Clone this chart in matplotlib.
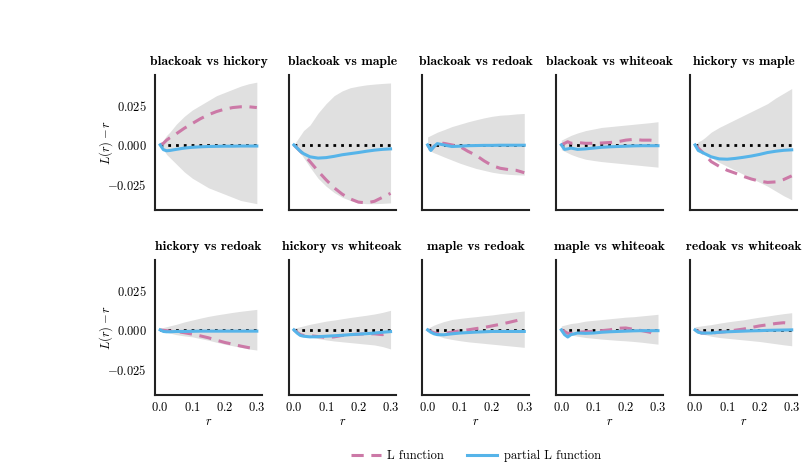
import numpy as np
import matplotlib
matplotlib.use("Agg")
import matplotlib.pyplot as plt

plt.rcParams["font.family"] = ["cmr10", "DejaVu Serif"]
plt.rcParams["mathtext.fontset"] = "cm"
plt.rcParams["axes.formatter.use_mathtext"] = True
plt.rcParams["axes.unicode_minus"] = True

# distance grid
r = [0, 0.01, 0.02, 0.03, 0.05, 0.075, 0.1, 0.125, 0.15, 0.175, 0.2, 0.225, 0.25, 0.275, 0.3]

titles = ["blackoak vs hickory", "blackoak vs maple", "blackoak vs redoak",
          "blackoak vs whiteoak", "hickory vs maple", "hickory vs redoak",
          "hickory vs whiteoak", "maple vs redoak", "maple vs whiteoak",
          "redoak vs whiteoak"]

# L(r) - r
L_bh = [0, .001, .003, .0045, .007, .0105, .0135, .0165, .019, .021, .0225, .0235, .024, .024, .0235]
L_bm = [0, -.002, -.004, -.006, -.0105, -.0165, -.022, -.027, -.031, -.034, -.036, -.0365, -.0355, -.033, -.0305]
L_br = [0, -.003, -.001, .001, .001, 0, -.001, -.004, -.0065, -.01, -.013, -.0147, -.0155, -.016, -.0175]
L_bw = [0, .001, .002, .001, .0015, .001, .001, .0012, .0015, .002, .003, .0035, .003, .003, .0025]
L_hm = [0, -.002, -.004, -.006, -.0105, -.0135, -.016, -.0178, -.0198, -.0215, -.0228, -.0236, -.0233, -.0218, -.0195]
L_hr = [0, -.0003, -.0005, -.0008, -.001, -.0018, -.0027, -.0038, -.005, -.0065, -.0079, -.009, -.0102, -.0112, -.012]
L_hw = [0, -.0015, -.003, -.0035, -.0037, -.0042, -.0048, -.0044, -.0035, -.003, -.0027, -.0025, -.0025, -.003, -.002]
L_mr = [0, -.001, -.0018, -.0023, -.0022, -.0015, -.0006, 0, .0008, .0015, .0025, .0035, .0046, .0058, .0071]
L_mw = [0, -.001, -.0022, -.0022, -.0015, -.0012, -.001, -.0005, 0, .001, .0012, .0003, -.0005, -.0015, -.004]
L_rw = [0, -.001, -.002, -.002, -.002, -.0015, -.001, -.0002, .0005, .0015, .0025, .0032, .004, .0045, .004]

# partial L(r) - r
P_bh = [0, -.003, -.0037, -.0035, -.0028, -.002, -.0015, -.0012, -.001, -.0009, -.0008, -.0008, -.0007, -.0007, -.0007]
P_bm = [0, -.002, -.004, -.0055, -.0075, -.0083, -.008, -.0072, -.0062, -.0055, -.0048, -.004, -.0033, -.0028, -.0025]
P_br = [0, -.0035, -.001, .0008, 0, -.001, -.0008, -.0005, -.0004, -.0003, -.0003, -.0002, -.0002, -.0002, -.0002]
P_bw = [0, -.0028, -.0025, -.002, -.0028, -.0025, -.002, -.0015, -.0012, -.001, -.0008, -.0006, -.0005, -.0005, -.0005]
P_hm = [0, -.0035, -.0045, -.0055, -.0075, -.0088, -.009, -.0085, -.0078, -.007, -.006, -.0048, -.004, -.0034, -.0031]
P_hr = [0, -.001, -.0012, -.0012, -.001, -.001, -.0009, -.0008, -.0008, -.0008, -.0008, -.0008, -.0008, -.0008, -.0008]
P_hw = [0, -.002, -.0035, -.004, -.0044, -.0043, -.004, -.0037, -.0034, -.003, -.0027, -.0024, -.002, -.0015, -.0011]
P_mr = [0, -.0015, -.0025, -.003, -.0031, -.0025, -.002, -.0017, -.0014, -.0012, -.001, -.001, -.001, -.001, -.001]
P_mw = [0, -.003, -.0045, -.003, -.002, -.0022, -.002, -.0015, -.0012, -.001, -.0008, -.0006, -.0005, -.0005, -.0005]
P_rw = [0, -.0015, -.002, -.002, -.002, -.0015, -.0012, -.001, -.0008, -.0006, -.0005, -.0003, -.0002, -.0001, 0]

# envelope upper / lower
H_bh = [0, .003, .006, .008, .013, .018, .022, .025, .028, .031, .033, .035, .037, .0385, .0395]
B_bh = [0, -.003, -.006, -.008, -.012, -.017, -.021, -.024, -.027, -.029, -.031, -.033, -.035, -.036, -.037]
H_bm = [0, .003, .006, .009, .0125, .02, .026, .031, .034, .036, .037, .0378, .0383, .0387, .039]
B_bm = [0, -.003, -.005, -.008, -.014, -.021, -.026, -.030, -.033, -.035, -.0365, -.037, -.037, -.0368, -.0365]
H_br = [.005, .006, .007, .008, .0095, .0115, .013, .0145, .0158, .017, .018, .0187, .019, .0195, .0198]
B_br = [-.003, -.004, -.005, -.0058, -.0075, -.0095, -.0115, -.0132, -.0148, -.016, -.0172, -.018, -.0185, -.0188, -.019]
H_bw = [.003, .004, .005, .006, .0075, .009, .010, .011, .0115, .012, .0125, .013, .0135, .014, .0146]
B_bw = [-.003, -.004, -.005, -.006, -.0075, -.009, -.0098, -.0105, -.011, -.0115, -.012, -.0125, -.013, -.0135, -.014]
H_hm = [0, .002, .003, .0045, .008, .011, .0135, .016, .0185, .021, .0235, .026, .0295, .0325, .0355]
B_hm = [0, -.002, -.003, -.0045, -.008, -.011, -.0135, -.016, -.0185, -.021, -.0235, -.026, -.029, -.032, -.0345]
H_hr = [.001, .0015, .002, .0025, .0035, .005, .0062, .0074, .0085, .0094, .0102, .011, .0117, .0123, .0129]
B_hr = [-.0005, -.001, -.0015, -.002, -.003, -.0038, -.0044, -.0055, -.0065, -.0078, -.009, -.010, -.011, -.012, -.0127]
H_hw = [.001, .0015, .002, .0025, .0035, .0045, .0055, .0062, .007, .0078, .0085, .0092, .01, .011, .0123]
B_hw = [-.001, -.0015, -.002, -.003, -.0045, -.0055, -.0063, -.007, -.0075, -.008, -.0085, -.009, -.0095, -.0105, -.012]
H_mr = [.001, .002, .003, .0038, .0052, .0065, .0072, .0078, .0083, .0089, .0094, .0101, .0107, .0113, .0119]
B_mr = [-.001, -.0018, -.0025, -.0035, -.005, -.006, -.0068, -.0075, -.008, -.0085, -.009, -.0095, -.010, -.0105, -.011]
H_mw = [.0025, .003, .0035, .004, .0045, .0055, .006, .0065, .007, .0075, .008, .0083, .0088, .0093, .0098]
B_mw = [-.0017, -.0022, -.0027, -.0032, -.004, -.0048, -.0053, -.0058, -.0062, -.0066, -.0069, -.0073, -.0078, -.0084, -.009]
H_rw = [.002, .0022, .0025, .0028, .0033, .0042, .005, .0057, .0063, .0072, .008, .0087, .0095, .0102, .0108]
B_rw = [-.0017, -.002, -.0025, -.003, -.004, -.0048, -.0053, -.0058, -.0063, -.0068, -.0073, -.008, -.0087, -.0094, -.010]

L_all = [L_bh, L_bm, L_br, L_bw, L_hm, L_hr, L_hw, L_mr, L_mw, L_rw]
P_all = [P_bh, P_bm, P_br, P_bw, P_hm, P_hr, P_hw, P_mr, P_mw, P_rw]
H_all = [H_bh, H_bm, H_br, H_bw, H_hm, H_hr, H_hw, H_mr, H_mw, H_rw]
B_all = [B_bh, B_bm, B_br, B_bw, B_hm, B_hr, B_hw, B_mr, B_mw, B_rw]

pink = "#cc79a7"
blue = "#56b4e9"

fig, axes = plt.subplots(2, 5, figsize=(8.09, 4.68), dpi=100, sharex=True, sharey=True)
fig.subplots_adjust(left=0.1916, right=0.985, top=0.8397, bottom=0.156, wspace=0.25, hspace=0.37)

for i, ax in enumerate(axes.flat):
    ax.fill_between(r, B_all[i], H_all[i], color="#e0e0e0", linewidth=0, zorder=1)
    ax.hlines(0, r[0], r[-1], colors="black", linestyles=(0, (1, 1.8)), linewidth=2, zorder=2)
    l1, = ax.plot(r, L_all[i], color=pink, linestyle=(0, (4, 2.5)), linewidth=2.2, zorder=3, label="L function")
    l2, = ax.plot(r, P_all[i], color=blue, linewidth=2.2, zorder=4, label="partial L function")
    ax.set_title(titles[i], fontsize=9.8, fontfamily="cmb10", pad=7)
    for s in ["top", "right"]:
        ax.spines[s].set_visible(False)
    for s in ["left", "bottom"]:
        ax.spines[s].set_linewidth(1.5)
        ax.spines[s].set_color("#222222")
    ax.tick_params(axis="y", length=0, labelsize=9, pad=6)
    ax.tick_params(axis="x", length=0, labelsize=9, pad=4)

axes[0, 0].set_ylim(-0.041, 0.044)
axes[0, 0].set_yticks([-0.025, 0, 0.025])
axes[0, 0].set_xticks([0, 0.1, 0.2, 0.3])
axes[0, 0].set_xlim(-0.016, 0.316)

for ax in axes[:, 0]:
    ax.set_ylabel(r"$L(r) - r$", fontsize=9, labelpad=-6)
for ax in axes[1, :]:
    ax.set_xlabel(r"$r$", fontsize=9, labelpad=2)

fig.legend(handles=[l1, l2], loc="lower center", bbox_to_anchor=(0.588, -0.012), ncol=2,
           frameon=False, fontsize=9, handlelength=2.4, handletextpad=0.55, columnspacing=1.8)

fig.savefig("out.png", dpi=100)
